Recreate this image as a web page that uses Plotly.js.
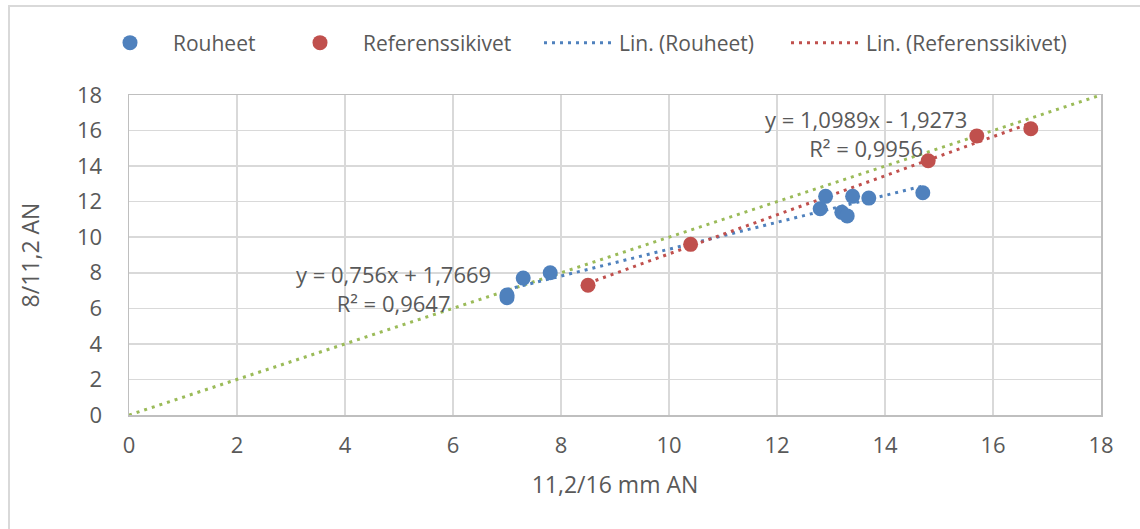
<!DOCTYPE html>
<html>
<head>
<meta charset="utf-8">
<script src="https://cdn.plot.ly/plotly-3.0.1.min.js"></script>
<style>
  html, body { margin: 0; padding: 0; background: #ffffff; overflow: hidden; }
  #chart { position: absolute; left: 0; top: 0; width: 1140px; height: 529px; }
  #frame { position: absolute; left: 8px; top: 5px; width: 1200px; height: 600px;
           border-left: 2px solid #d9d9d9; border-top: 2px solid #d9d9d9; pointer-events: none; }
</style>
</head>
<body>
<div id="chart"></div>
<div id="frame"></div>
<script>
// Rouheet: 11,2/16 mm AN vs 8/11,2 AN
const rouheetX = [7.0, 7.0, 7.3, 7.8, 12.8, 12.9, 13.2, 13.3, 13.4, 13.7, 14.7];
const rouheetY = [6.6, 6.75, 7.7, 8.0, 11.6, 12.3, 11.4, 11.2, 12.3, 12.2, 12.5];

// Referenssikivet
const refX = [8.5, 10.4, 14.8, 15.7, 16.7];
const refY = [7.3, 9.6, 14.3, 15.7, 16.1];

// Linear trendline coefficients [slope, intercept] and R²
const rouheetFit = [0.756, 1.7669];
const rouheetR2 = 0.9647;
const refFit = [1.0989, -1.9273];
const refR2 = 0.9956;

// Identity line y = x
const identityX = [0, 18];
const identityY = [0, 18];

const tickVals = [0, 2, 4, 6, 8, 10, 12, 14, 16, 18];

const BLUE = '#4F81BD';
const RED = '#C0504D';
const GREEN = '#9BBB59';
const TEXT = '#595959';
const FONT = 'Open Sans, Lato, sans-serif';

function fitLine(xs, coef) {
  const x0 = Math.min(...xs), x1 = Math.max(...xs);
  return { x: [x0, x1], y: [coef[0] * x0 + coef[1], coef[0] * x1 + coef[1]] };
}
function fmt(v, d) { return v.toFixed(d).replace('.', ','); }
function eqText(coef, r2) {
  const sign = coef[1] < 0 ? ' - ' : ' + ';
  return 'y = ' + fmt(coef[0], String(coef[0]).split('.')[1].length) + 'x' + sign +
         fmt(Math.abs(coef[1]), 4) + '<br>R² = ' + fmt(r2, 4);
}

const rFit = fitLine(rouheetX, rouheetFit);
const kFit = fitLine(refX, refFit);

const dotDash = '3px,5px';

const traces = [
  { x: identityX, y: identityY, mode: 'lines', showlegend: false, hoverinfo: 'skip',
    line: { color: GREEN, width: 3, dash: dotDash } },
  { x: rFit.x, y: rFit.y, mode: 'lines', name: 'Lin. (Rouheet)', legend: 'legend3',
    line: { color: BLUE, width: 3, dash: dotDash } },
  { x: kFit.x, y: kFit.y, mode: 'lines', name: 'Lin. (Referenssikivet)', legend: 'legend4',
    line: { color: RED, width: 3, dash: dotDash } },
  { x: rouheetX, y: rouheetY, mode: 'markers', name: 'Rouheet', legend: 'legend',
    marker: { color: BLUE, size: 15 } },
  { x: refX, y: refY, mode: 'markers', name: 'Referenssikivet', legend: 'legend2',
    marker: { color: RED, size: 15 } }
];

// plot area spans pixels 129..1101 horizontally, 95..415 vertically
const PL = 129, PW = 972, PT = 95, PH = 320;
function px2paperX(p) { return (p - PL) / PW; }
function px2paperY(p) { return (PT + PH - p) / PH; }

function legendAt(px, itemwidth) {
  return {
    x: px2paperX(px), y: px2paperY(43), xanchor: 'left', yanchor: 'middle',
    orientation: 'h', bgcolor: 'rgba(0,0,0,0)', borderwidth: 0, itemwidth: itemwidth,
    font: { family: FONT, size: 21, color: TEXT }
  };
}

const axisCommon = {
  range: [0, 18], tickvals: tickVals, showgrid: true, gridcolor: '#d9d9d9', gridwidth: 1.5,
  zeroline: false, showline: true, mirror: true, linecolor: '#bfbfbf', linewidth: 1.5,
  ticks: '', tickfont: { family: FONT, size: 22, color: TEXT }, fixedrange: true
};

const layout = {
  width: 1140, height: 529,
  margin: { l: PL, r: 1140 - PL - PW, t: PT, b: 529 - PT - PH },
  paper_bgcolor: 'rgba(0,0,0,0)', plot_bgcolor: '#ffffff',
  showlegend: true,
  legend: legendAt(87, 76),
  legend2: legendAt(277, 76),
  legend3: legendAt(539, 70),
  legend4: legendAt(786, 70),
  xaxis: Object.assign({}, axisCommon, {
    ticklabelstandoff: 10,
    title: { text: '11,2/16 mm AN', font: { family: FONT, size: 23, color: TEXT }, standoff: 19 }
  }),
  yaxis: Object.assign({}, axisCommon, {
    ticklabelstandoff: 21,
    title: { text: '8/11,2 AN', font: { family: FONT, size: 23, color: TEXT }, standoff: 31 }
  }),
  annotations: [
    { x: 4.89, y: 7.14, xref: 'x', yref: 'y', text: eqText(rouheetFit, rouheetR2),
      showarrow: false, align: 'center', font: { family: FONT, size: 22, color: TEXT } },
    { x: 13.65, y: 15.83, xref: 'x', yref: 'y', text: eqText(refFit, refR2),
      showarrow: false, align: 'center', font: { family: FONT, size: 22, color: TEXT } }
  ]
};

Plotly.newPlot('chart', traces, layout, { staticPlot: true, displayModeBar: false });
</script>
</body>
</html>
